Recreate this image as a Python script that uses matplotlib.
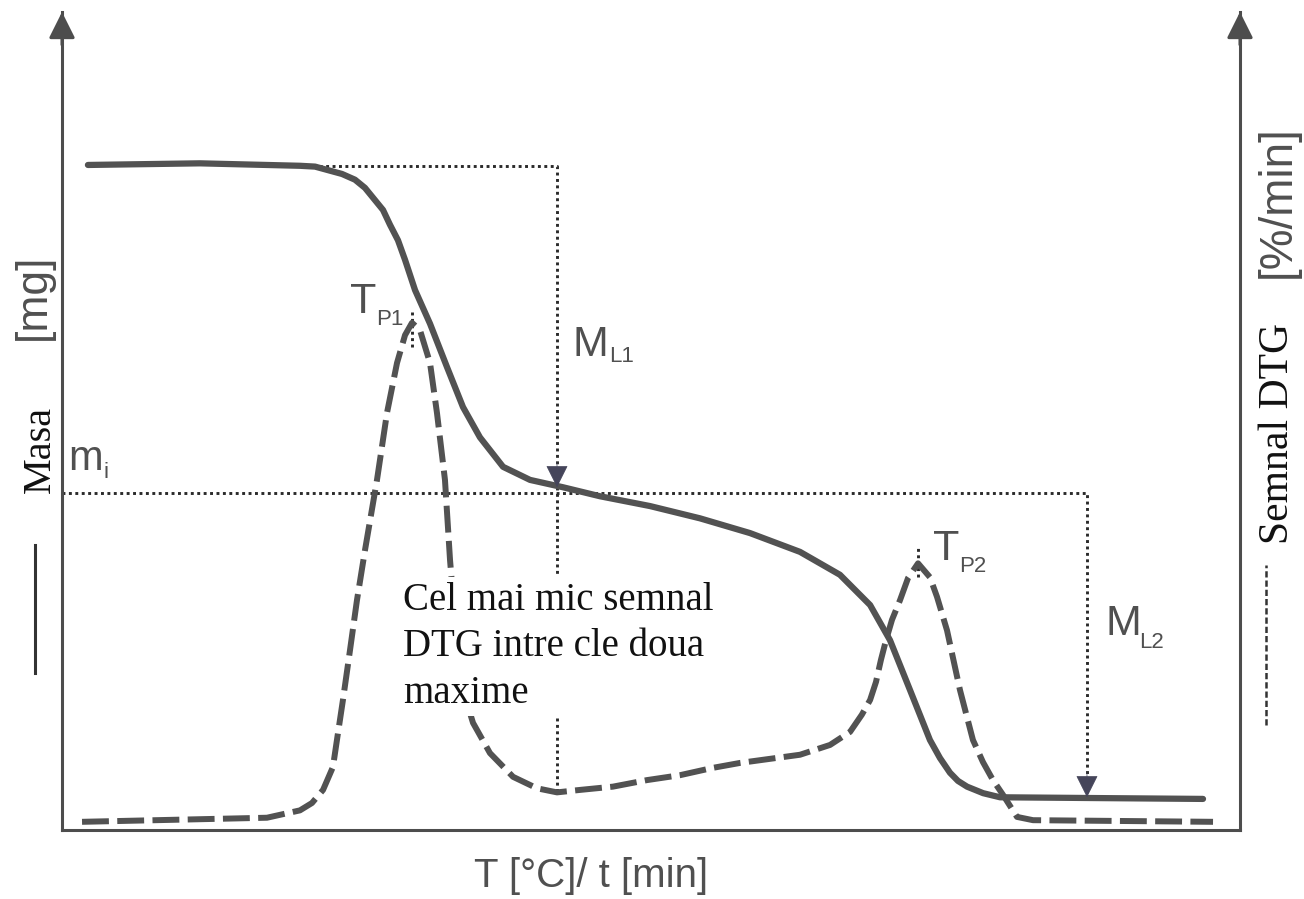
"""
Curba TG / DTG schematica (masa si semnalul DTG in functie de temperatura).
"""

import matplotlib

matplotlib.use("Agg")

import matplotlib.pyplot as plt

# temperatura (unitati arbitrare, 0..1000) si masa (% din scala, 0..100)
temp_tg = [22, 117, 202, 214.8, 227.5, 237.7, 248.7, 257.2, 265.7, 272.5,
           278.4, 285.2, 291.2, 299.7, 312.4, 326.8, 340.4, 354.8, 374.4,
           397.3, 425.3, 456.7, 499.2, 541.6, 584, 626.5, 660.4, 686,
           702.9, 719.9, 736.8, 745.3, 753.8, 760.6, 768.3, 782, 796.3,
           881.2, 968.6]
masa_tg = [81.3, 81.5, 81.2, 81.1, 80.6, 80.2, 79.5, 78.5, 77.0, 75.8,
           74.0, 72.1, 69.7, 66.0, 61.9, 56.6, 51.7, 48.0, 44.4,
           42.8, 41.9, 40.8, 39.6, 38.1, 36.3, 34.0, 31.2, 27.5,
           23.2, 17.1, 11.0, 8.8, 7.0, 6.0, 5.3, 4.5, 4.0,
           3.9, 3.8]

# semnalul DTG, pe aceeasi scara
temp_dtg = [17, 174, 202, 212.2, 221.6, 230, 233.4, 238.5, 244.5, 250.4,
            257.2, 267.4, 275.9, 284.4, 291.2, 297.1, 303.9, 312.4, 318.3,
            325.1, 329.4, 333.6, 340.4, 348.9, 363.3, 382.9, 403.2, 420.2,
            439.7, 467.7, 496.6, 524.6, 552.6, 575.6, 626.5, 652, 669, 679,
            686, 691, 695.2, 699.5, 704.6, 711.4, 718.2, 726.7, 736.8, 742.8,
            751.3, 762.3, 773.3, 781.8, 790.3, 798.8, 810.7, 824.3, 977.1]
semnal_dtg = [1.0, 1.5, 2.4, 3.3, 4.9, 7.7, 11.0, 15.9, 22.0, 28.1,
              34.2, 42.8, 51.0, 57.1, 60.5, 62.0, 61.1, 57.1, 51.0,
              42.8, 33.0, 25.7, 17.1, 13.1, 9.4, 6.5, 5.1, 4.6,
              4.9, 5.3, 6.1, 6.7, 7.6, 8.2, 9.2, 10.4, 12.0, 14.1,
              15.9, 18.1, 20.8, 23.2, 25.7, 28.1, 30.8, 32.6, 30.9, 28.5,
              24.4, 17.1, 11.0, 8.3, 6.1, 4.3, 1.6, 1.2, 1.0]

# puncte caracteristice
t_p1, dtg_p1 = 297.1, 62.0
t_p2, dtg_p2 = 726.7, 32.6
t_ml1 = 420.2
t_ml2 = 870.1
masa_start = 81.2
masa_i = 41.2
masa_ml1 = 41.9
masa_final = 4.0
dtg_min = 4.6

GRI = "#4d4d4d"
LINIE = "#525252"
TEXT_GRI = "#505050"
SANS = ["Liberation Sans", "DejaVu Sans"]
SERIF = ["Liberation Serif", "DejaVu Serif"]

fig = plt.figure(figsize=(13.04, 8.99), dpi=100)
ax = fig.add_axes([62 / 1304, 69 / 899, 1178 / 1304, 818 / 899])
ax.set_xlim(0, 1000)
ax.set_ylim(0, 100)
ax.set_xticks([])
ax.set_yticks([])
ax.spines["top"].set_visible(False)
for s in ("left", "right", "bottom"):
    ax.spines[s].set_color(GRI)
    ax.spines[s].set_linewidth(2.2)

# sagetile axelor
for xa in (0, 1):
    ax.annotate(
        "", xy=(xa, 1.0), xycoords="axes fraction",
        xytext=(xa, 0.96), textcoords="axes fraction",
        arrowprops=dict(arrowstyle="-|>,head_length=0.4,head_width=0.2",
                        mutation_scale=40, color=GRI, lw=2.2,
                        shrinkA=0, shrinkB=0),
    )

# linii ajutatoare punctate
punct = dict(color="#2a2a2a", lw=2.1, linestyle=(0, (1, 1.2)), zorder=1)
ax.plot([202, t_ml1, t_ml1], [masa_start, masa_start, masa_ml1], **punct)
ax.plot([t_ml1, t_ml1], [masa_ml1, dtg_min], **punct)
ax.plot([0, t_ml2, t_ml2], [masa_i, masa_i, masa_final], **punct)
ax.plot([t_p1, t_p1], [dtg_p1 - 3, dtg_p1 + 1.6], **punct)
ax.plot([t_p2, t_p2], [dtg_p2 - 1.7, dtg_p2 + 2.2], **punct)

for xs, ys in ((t_ml1, masa_ml1), (t_ml2, masa_final)):
    ax.annotate(
        "", xy=(xs, ys), xytext=(xs, ys + 3),
        arrowprops=dict(arrowstyle="-|>,head_length=0.4,head_width=0.2",
                        mutation_scale=36, color="#45455a", lw=0.5,
                        shrinkA=0, shrinkB=0),
        zorder=3,
    )

# curbele
ax.plot(temp_dtg, semnal_dtg, color=LINIE, lw=4.3, dashes=(4.5, 1.4),
        dash_capstyle="butt", dash_joinstyle="round", zorder=2)
ax.plot(temp_tg, masa_tg, color=LINIE, lw=4.5, solid_capstyle="round",
        solid_joinstyle="round", zorder=2)

# etichete pe grafic
ax.text(244.5, 63.2, "T", fontsize=31, family=SANS, color=TEXT_GRI)
ax.text(266.5, 61.7, "P1", fontsize=16, family=SANS, color=TEXT_GRI)
ax.text(739.4, 33.0, "T", fontsize=31, family=SANS, color=TEXT_GRI)
ax.text(761.5, 31.5, "P2", fontsize=16, family=SANS, color=TEXT_GRI)
ax.text(433, 57.9, "M", fontsize=31, family=SANS, color=TEXT_GRI)
ax.text(464.5, 57.2, "L1", fontsize=16, family=SANS, color=TEXT_GRI)
ax.text(885.4, 23.8, "M", fontsize=31, family=SANS, color=TEXT_GRI)
ax.text(914.5, 22.2, "L2", fontsize=16, family=SANS, color=TEXT_GRI)
ax.text(5.1, 44.0, "m", fontsize=30, family=SANS, color=TEXT_GRI)
ax.text(35.5, 43.0, "i", fontsize=16, family=SANS, color=TEXT_GRI)

# va="baseline" se aplica ultimului rand
ax.text(289.5, 15.5, "Cel mai mic semnal\nDTG intre cle doua\nmaxime",
        fontsize=28, family=SERIF, color="#111111", va="baseline",
        linespacing=1.35, zorder=4,
        bbox=dict(facecolor="white", edgecolor="none", pad=3))

# titlul axei x
ax.text(449, -7.0, "T [°C]/ t [min]", fontsize=29, family=SANS,
        color=TEXT_GRI, ha="center", va="baseline", clip_on=False)

# titlul axei stangi
ax.text(-24.6, 65.2, "[mg]", fontsize=32, family=SANS, color=TEXT_GRI,
        rotation=90, ha="center", va="center", clip_on=False)
ax.text(-18.7, 46.5, "Masa", fontsize=29, family=SERIF, color="#111111",
        rotation=90, ha="center", va="center", clip_on=False)
ax.plot([-22.9, -22.9], [19.2, 34.8], color="#333333", lw=2.2,
        clip_on=False)

# titlul axei drepte
ax.text(1032.3, 76.8, "[%/min]", fontsize=33, family=SANS, color=TEXT_GRI,
        rotation=90, ha="center", va="center", clip_on=False)
ax.text(1032.3, 48.5, "Semnal DTG", fontsize=30, family=SERIF,
        color="#111111", rotation=90, ha="center", va="center",
        clip_on=False)
ax.plot([1022, 1022], [12.8, 32.4], color="#333333", lw=1.8,
        dashes=(2.5, 1.2), clip_on=False)

fig.savefig("out.png", dpi=100, facecolor="white")
plt.close(fig)
